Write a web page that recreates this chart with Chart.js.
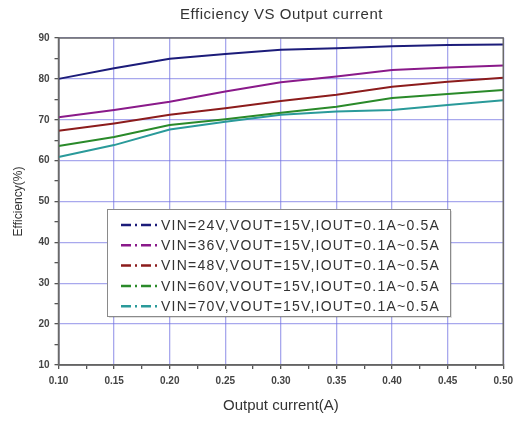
<!DOCTYPE html>
<html>
<head>
<meta charset="utf-8">
<script src="https://cdn.jsdelivr.net/npm/chart.js@4.4.1/dist/chart.umd.min.js"></script>
<style>
  html, body { margin: 0; padding: 0; background: #fff; }
  #wrap { width: 519px; height: 421px; }
</style>
</head>
<body>
<div id="wrap"><canvas id="myChart" width="519" height="421"></canvas></div>
<script>
// output current (A)
const currents = [0.10, 0.15, 0.20, 0.25, 0.30, 0.35, 0.40, 0.45, 0.50];

// efficiency (%) per input voltage
const vin24 = [80.0, 82.6, 84.9, 86.1, 87.1, 87.5, 88.0, 88.3, 88.4];
const vin36 = [70.6, 72.4, 74.4, 76.9, 79.2, 80.6, 82.2, 82.8, 83.3];
const vin48 = [67.3, 69.1, 71.2, 72.8, 74.6, 76.1, 78.1, 79.3, 80.3];
const vin60 = [63.6, 65.8, 68.7, 70.1, 71.7, 73.2, 75.3, 76.3, 77.3];
const vin70 = [60.9, 63.8, 67.6, 69.5, 71.2, 72.0, 72.4, 73.6, 74.8];

const seriesLabels = [
  'VIN=24V,VOUT=15V,IOUT=0.1A~0.5A',
  'VIN=36V,VOUT=15V,IOUT=0.1A~0.5A',
  'VIN=48V,VOUT=15V,IOUT=0.1A~0.5A',
  'VIN=60V,VOUT=15V,IOUT=0.1A~0.5A',
  'VIN=70V,VOUT=15V,IOUT=0.1A~0.5A'
];
const seriesColors = ['#1c1c7a', '#8a1a8a', '#8c1c1c', '#2a8a2a', '#2a9a9a'];

const xTicks = ['0.10', '0.15', '0.20', '0.25', '0.30', '0.35', '0.40', '0.45', '0.50'];
const yTicks = ['10', '20', '30', '40', '50', '60', '70', '80', '90'];

const gridColor = 'rgba(110,110,225,0.6)';
const FONT = 'Arial, "Liberation Sans", sans-serif';

function toPoints(vals) {
  return vals.map((v, i) => ({ x: currents[i], y: v }));
}

// draw text squeezed/stretched to a given width
function fitText(ctx, text, x, y, width) {
  ctx.letterSpacing = '0px';
  const w = ctx.measureText(text).width;
  ctx.letterSpacing = ((width - w) / text.length).toFixed(2) + 'px';
  ctx.fillText(text, x, y);
  ctx.letterSpacing = '0px';
}

const allSeries = [vin24, vin36, vin48, vin60, vin70];
const datasets = allSeries.map((vals, i) => ({
  label: seriesLabels[i],
  data: toPoints(vals),
  borderColor: seriesColors[i],
  backgroundColor: seriesColors[i],
  borderWidth: 2,
  pointRadius: 0,
  tension: 0,
  fill: false
}));

// title, frame and the boxed legend drawn over the plot
const extras = {
  id: 'extras',
  afterDraw(chart) {
    const ctx = chart.ctx;
    const a = chart.chartArea;
    ctx.save();

    ctx.strokeStyle = '#6a6a6a';
    ctx.lineWidth = 1.5;
    ctx.strokeRect(a.left, a.top, a.right - a.left, a.bottom - a.top);

    ctx.fillStyle = '#333';
    ctx.font = '15px ' + FONT;
    ctx.textAlign = 'left';
    ctx.textBaseline = 'middle';
    fitText(ctx, 'Efficiency VS Output current', 180, 15, 203);

    // legend box
    const bx = 107, by = 209, bw = 343, bh = 107;
    ctx.fillStyle = 'rgba(0,0,0,0.12)';
    ctx.fillRect(bx + 2, by + 2, bw, bh);
    ctx.fillStyle = '#fff';
    ctx.fillRect(bx, by, bw, bh);
    ctx.strokeStyle = '#8a8a8a';
    ctx.lineWidth = 1;
    ctx.strokeRect(bx + 0.5, by + 0.5, bw, bh);

    ctx.font = '14px ' + FONT;
    chart.data.datasets.forEach((ds, i) => {
      const y = 225 + i * 20.3;
      ctx.strokeStyle = ds.borderColor;
      ctx.lineWidth = 2.5;
      ctx.setLineDash([10, 4, 2, 4]);
      ctx.beginPath();
      ctx.moveTo(121, y);
      ctx.lineTo(161, y);
      ctx.stroke();
      ctx.setLineDash([]);
      ctx.fillStyle = '#333';
      fitText(ctx, ds.label, 161, y + 1, 279);
    });
    ctx.restore();
  }
};

const ctx = document.getElementById('myChart').getContext('2d');
const myChart = new Chart(ctx, {
  type: 'line',
  data: { datasets: datasets },
  plugins: [extras],
  options: {
    responsive: false,
    animation: false,
    layout: { padding: { top: 38, right: 3, bottom: 6, left: 11 } },
    plugins: {
      legend: { display: false },
      title: { display: false },
      tooltip: { enabled: false }
    },
    scales: {
      x: {
        type: 'linear',
        min: 0.1,
        max: 0.5,
        border: { color: '#555', width: 1.5 },
        grid: {
          color: c => (c.index % 2 === 0 ? gridColor : 'transparent'),
          tickColor: '#555',
          tickLength: 4,
          lineWidth: 1.3
        },
        ticks: {
          stepSize: 0.025,
          autoSkip: false,
          maxRotation: 0,
          color: '#444',
          padding: 6,
          font: { family: FONT, size: 10, weight: 'bold' },
          callback: (v, i) => (i % 2 === 0 ? xTicks[i / 2] : '')
        },
        title: {
          display: true,
          text: 'Output current(A)',
          color: '#333',
          padding: { top: 4, bottom: 0 },
          font: { family: FONT, size: 15 }
        }
      },
      y: {
        type: 'linear',
        min: 10,
        max: 90,
        border: { color: '#555', width: 1.5 },
        grid: {
          color: c => (c.index % 2 === 0 ? gridColor : 'transparent'),
          tickColor: '#555',
          tickLength: 4,
          lineWidth: 1.3
        },
        ticks: {
          stepSize: 5,
          autoSkip: false,
          color: '#444',
          padding: 5,
          font: { family: FONT, size: 10, weight: 'bold' },
          callback: (v, i) => (i % 2 === 0 ? yTicks[i / 2] : '')
        },
        title: {
          display: true,
          text: 'Efficiency(%)',
          color: '#333',
          padding: { top: 0, bottom: 8 },
          font: { family: FONT, size: 12 }
        }
      }
    }
  }
});
</script>
</body>
</html>
